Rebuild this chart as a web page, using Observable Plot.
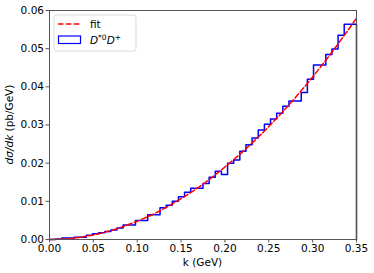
<!DOCTYPE html>
<html><head><meta charset="utf-8">
<script src="https://cdn.jsdelivr.net/npm/d3@7"></script>
<script src="https://cdn.jsdelivr.net/npm/@observablehq/plot@0.6"></script>
<style>body{margin:0;background:#fff}#chart svg{display:block}</style>
</head><body><div id="chart"></div>
<script>
// Histogram: 50 bins from 0 to 0.35 GeV
const binWidth = 0.007;
const histValues = [
  0.0000, 0.0001, 0.0004, 0.0004, 0.0006, 0.0006, 0.0011, 0.0015, 0.0018, 0.0021,
  0.0025, 0.0030, 0.0038, 0.0038, 0.0050, 0.0050, 0.0065, 0.0065, 0.0083, 0.0090,
  0.0100, 0.0112, 0.0124, 0.0134, 0.0134, 0.0147, 0.0163, 0.0179, 0.0170, 0.0200,
  0.0208, 0.0231, 0.0248, 0.0266, 0.0287, 0.0302, 0.0316, 0.0331, 0.0349, 0.0363,
  0.0363, 0.0385, 0.0420, 0.0457, 0.0457, 0.0485, 0.0499, 0.0535, 0.0564, 0.0564
];
// Fit curve read at points
const fitK = [0, 0.025, 0.05, 0.075, 0.1, 0.125, 0.15, 0.175, 0.2, 0.225, 0.25, 0.275, 0.3, 0.325, 0.35];
const fitY = [0, 0.0003, 0.0012, 0.0027, 0.0048, 0.0074, 0.0107, 0.0145, 0.0190, 0.0240, 0.0296, 0.0358, 0.0426, 0.0500, 0.0580];
const xTicks = [0, 0.05, 0.10, 0.15, 0.20, 0.25, 0.30, 0.35];
const yTicks = [0, 0.01, 0.02, 0.03, 0.04, 0.05, 0.06];
const xLabel = "k (GeV)";
const legendFit = "fit";

// step outline
const stepPts = histValues.map((v, i) => ({k: i * binWidth, v}));
stepPts.push({k: histValues.length * binWidth, v: histValues[histValues.length - 1]});
stepPts.push({k: histValues.length * binWidth, v: 0});
const fitPts = fitK.map((k, i) => ({k, v: fitY[i]}));

const W = 374, H = 273, mL = 49, mR = 18, mT = 10, mB = 34;
const plot = Plot.plot({
  width: W, height: H,
  marginLeft: mL, marginRight: mR, marginTop: mT, marginBottom: mB,
  style: {fontFamily: "DejaVu Sans", fontSize: "10.5px", color: "#000", background: "#fff"},
  x: {domain: [0, 0.35]},
  y: {domain: [0, 0.06]},
  marks: [
    Plot.line(stepPts, {x: "k", y: "v", curve: "step-after", stroke: "#0000ff", strokeWidth: 1.5}),
    Plot.line(fitPts, {x: "k", y: "v", curve: "monotone-x", stroke: "#ff0000", strokeWidth: 1.5, strokeDasharray: "5.5,2.4"}),
    Plot.frame({stroke: "#555", strokeWidth: 1}),
    Plot.axisX({ticks: xTicks, tickFormat: d3.format(".2f"), tickSize: 3.5, tickPadding: 2, label: null, fontSize: 10.5, stroke: "#555"}),
    Plot.axisY({ticks: yTicks, tickFormat: d3.format(".2f"), tickSize: 3.5, tickPadding: 2, label: null, fontSize: 10.5, stroke: "#555"})
  ]
});
document.getElementById("chart").appendChild(plot);

const svg = d3.select(plot);
const ff = "DejaVu Sans";
// x label
svg.append("text").attr("x", mL + (W - mL - mR) / 2).attr("y", 266)
  .attr("text-anchor", "middle").attr("font-family", ff).attr("font-size", 10.5).text(xLabel);
// y label
const yl = svg.append("text").attr("transform", `translate(13,${mT + (H - mT - mB) / 2}) rotate(-90)`)
  .attr("text-anchor", "middle").attr("font-family", ff).attr("font-size", 10.5);
yl.append("tspan").attr("font-style", "italic").text("dσ/dk");
yl.append("tspan").text(" (pb/GeV)");

// legend
const lg = svg.append("g").attr("text-anchor", "start");
lg.append("rect").attr("x", 54).attr("y", 15).attr("width", 82).attr("height", 36).attr("rx", 2.5)
  .attr("fill", "#fff").attr("fill-opacity", 0.8).attr("stroke", "#d0d0d0").attr("stroke-width", 0.8);
lg.append("line").attr("x1", 58).attr("x2", 80).attr("y1", 24).attr("y2", 24)
  .attr("stroke", "#ff0000").attr("stroke-width", 1.5).attr("stroke-dasharray", "5.5,2.4");
lg.append("text").attr("x", 90).attr("y", 28).attr("text-anchor", "start").attr("font-family", ff).attr("font-size", 10.5).text(legendFit);
lg.append("rect").attr("x", 58.5).attr("y", 36).attr("width", 22).attr("height", 7.5)
  .attr("fill", "none").attr("stroke", "#0000ff").attr("stroke-width", 1.2);
const t2 = lg.append("text").attr("x", 90).attr("y", 44).attr("text-anchor", "start").attr("font-family", ff).attr("font-size", 10.5);
t2.append("tspan").attr("font-style", "italic").text("D");
t2.append("tspan").attr("font-size", 7.5).attr("dy", -4).text("*0");
t2.append("tspan").attr("font-style", "italic").attr("dy", 4).text("D");
t2.append("tspan").attr("font-size", 7.5).attr("dy", -4).text("+");
</script>
</body></html>
